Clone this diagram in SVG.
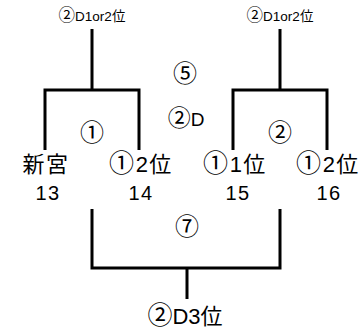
<svg xmlns="http://www.w3.org/2000/svg" width="363" height="330" viewBox="0 0 363 330">
<style>
.l{fill:none;stroke:#000;stroke-width:3;stroke-linecap:butt;stroke-linejoin:miter}
text{font-family:"Liberation Sans","Noto Sans CJK JP",sans-serif;fill:#000;text-anchor:middle}
.c{font-family:"Noto Sans CJK JP",sans-serif}
.s{font-size:13.5px}
.m{font-size:24px}
.b{font-size:22px;letter-spacing:1.5px}
.n{font-size:20px;letter-spacing:1.5px}
.d{font-size:22px}
</style>
<rect width="363" height="330" fill="#fff"/>
<g id="connectors">
<path class="l" d="M92,29V90M45,150V90H139V150"/>
<path class="l" d="M280,29V90M233,150V90H327V150"/>
<path class="l" d="M92,209V268H280V209M187,268V299"/>
</g>
<g id="top-left"><text class="s" x="92" y="21"><tspan class="c" font-size="16.5">②</tspan>D1or2位</text></g>
<g id="top-right"><text class="s" x="280" y="21"><tspan class="c" font-size="16.5">②</tspan>D1or2位</text></g>
<g id="m5"><text class="m c" x="185" y="82">⑤</text></g>
<g id="d2"><text x="186" y="126" font-size="19"><tspan class="c" font-size="23">②</tspan>D</text></g>
<g id="m1"><text class="m c" x="92" y="141">①</text></g>
<g id="m2"><text class="m c" x="280" y="141">②</text></g>
<g id="t13"><text class="b" x="46" y="172">新宮</text><text class="n" x="48" y="200">13</text></g>
<g id="t14"><text class="b" x="141" y="172"><tspan class="c" font-size="25">①</tspan>2位</text><text class="n" x="141" y="200">14</text></g>
<g id="t15"><text class="b" x="235" y="172"><tspan class="c" font-size="25">①</tspan>1位</text><text class="n" x="238" y="200">15</text></g>
<g id="t16"><text class="b" x="328" y="172"><tspan class="c" font-size="25">①</tspan>2位</text><text class="n" x="329" y="200">16</text></g>
<g id="m7"><text class="m c" x="187" y="235">⑦</text></g>
<g id="bottom"><text class="d" x="185" y="324"><tspan class="c" font-size="25">②</tspan>D3位</text></g>
</svg>
